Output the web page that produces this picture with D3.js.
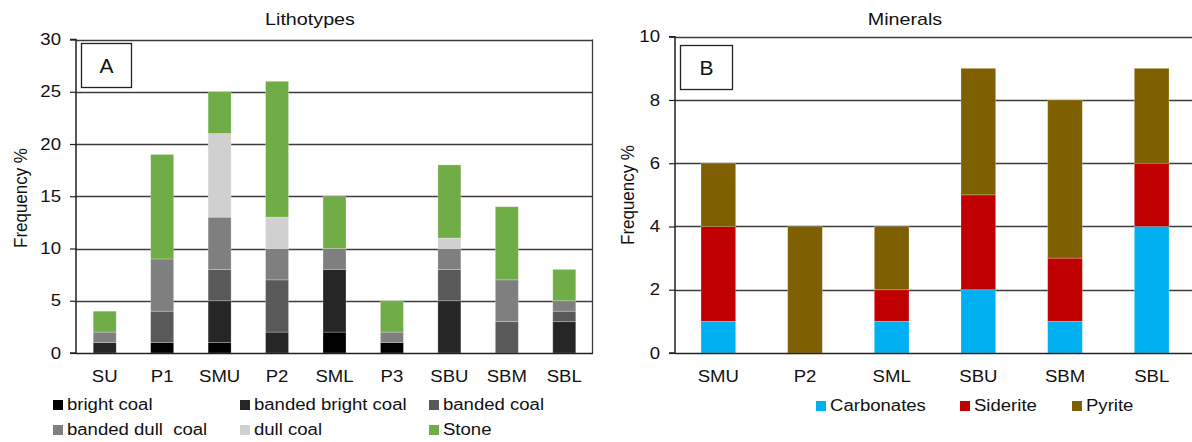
<!DOCTYPE html>
<html>
<head>
<meta charset="utf-8">
<script src="https://cdn.jsdelivr.net/npm/d3@7/dist/d3.min.js"></script>
<style>
  html, body { margin: 0; padding: 0; background: #fff; }
  svg { display: block; font-family: "Liberation Sans", Arial, sans-serif; }
</style>
</head>
<body>
<svg id="chart" width="1192" height="442"></svg>
<script>
// Panel A: lithotype frequencies per seam section
const lithoCategories = ["SU", "P1", "SMU", "P2", "SML", "P3", "SBU", "SBM", "SBL"];
const lithoSeries = ["bright coal", "banded bright coal", "banded coal", "banded dull  coal", "dull coal", "Stone"];
const brightCoal       = [0, 1, 1, 0, 2, 1, 0, 0, 0];
const bandedBrightCoal = [1, 0, 4, 2, 6, 0, 5, 0, 3];
const bandedCoal       = [0, 3, 3, 5, 0, 0, 3, 3, 1];
const bandedDullCoal   = [1, 5, 5, 3, 2, 1, 2, 4, 1];
const dullCoal         = [0, 0, 8, 3, 0, 0, 1, 0, 0];
const stone            = [2, 10, 4, 13, 5, 3, 7, 7, 3];
const lithoTicks = [0, 5, 10, 15, 20, 25, 30];
const lithoColors = ["#000000", "#262626", "#595959", "#7f7f7f", "#d0d0d0", "#70ad47"];

// Panel B: mineral frequencies per seam section
const mineralCategories = ["SMU", "P2", "SML", "SBU", "SBM", "SBL"];
const mineralSeries = ["Carbonates", "Siderite", "Pyrite"];
const carbonates = [1, 0, 1, 2, 1, 4];
const siderite   = [3, 0, 1, 3, 2, 2];
const pyrite     = [2, 4, 2, 4, 5, 3];
const mineralTicks = [0, 2, 4, 6, 8, 10];
const mineralColors = ["#00b0f0", "#c00000", "#7f6000"];

const FONT = "'Liberation Sans', Arial, sans-serif";
const STRETCH = 1.16;   // text is drawn slightly wide

const svg = d3.select("#chart");

// widen text horizontally while keeping its anchor point fixed
function widen(sel) {
  sel.each(function () {
    const t = d3.select(this);
    const x = +(t.attr("x") || 0);
    t.attr("transform", `translate(${x},0) scale(${STRETCH},1) translate(${-x},0)`);
  });
}

function drawPanel(cfg) {
  const g = svg.append("g");
  const x = d3.scaleBand().domain(cfg.categories).range([cfg.left, cfg.right]).paddingInner(0.6).paddingOuter(0.3);
  const y = d3.scaleLinear().domain([0, cfg.max]).range([cfg.bottom, cfg.top]);

  // gridlines (the top one is also the frame's upper edge)
  g.append("g").selectAll("line").data(cfg.ticks.slice(1)).join("line")
    .attr("x1", cfg.left).attr("x2", cfg.right)
    .attr("y1", d => Math.round(y(d)) + 0.5).attr("y2", d => Math.round(y(d)) + 0.5)
    .attr("stroke", "#3c3c3c").attr("stroke-width", 1.3);
  // right frame edge
  g.append("line")
    .attr("x1", cfg.right - 0.5).attr("x2", cfg.right - 0.5)
    .attr("y1", y(cfg.max)).attr("y2", cfg.bottom)
    .attr("stroke", "#3c3c3c").attr("stroke-width", 1.3);

  // stacked bars
  const rows = cfg.categories.map((c, i) => {
    const r = { cat: c };
    cfg.series.forEach((s, k) => { r[s] = cfg.values[k][i]; });
    return r;
  });
  const stacked = d3.stack().keys(cfg.series)(rows);
  g.append("g").selectAll("g").data(stacked).join("g")
    .attr("fill", (d, k) => cfg.colors[k])
    .selectAll("rect").data(d => d.filter(p => p[1] > p[0])).join("rect")
    .attr("x", d => x(d.data.cat))
    .attr("width", x.bandwidth())
    .attr("y", d => y(d[1]))
    .attr("height", d => y(d[0]) - y(d[1]))
    .attr("stroke", "rgba(255,255,255,0.3)")
    .attr("stroke-width", 0.8);

  // y axis
  const yAxis = d3.axisLeft(y).tickValues(cfg.ticks).tickSize(6).tickPadding(9).tickFormat(d3.format("d"));
  const ya = g.append("g").attr("transform", `translate(${cfg.left},0)`).call(yAxis);
  ya.select(".domain").attr("stroke", "#222").attr("stroke-width", 1.5).attr("d", `M-6,${cfg.bottom}H0V${cfg.top}H-6`);
  ya.selectAll(".tick line").attr("stroke", "#222").attr("stroke-width", 1.2);
  ya.selectAll(".tick text").attr("font-size", 16).attr("fill", "#111").attr("font-family", FONT).call(widen);

  // x axis
  const xAxis = d3.axisBottom(x).tickSize(0).tickPadding(18);
  const xa = g.append("g").attr("transform", `translate(0,${cfg.bottom})`).call(xAxis);
  xa.select(".domain").attr("stroke", "#222").attr("stroke-width", 1.5).attr("d", `M${cfg.left},0.5H${cfg.right}`);
  xa.selectAll(".tick text").attr("font-size", 16).attr("fill", "#111").attr("font-family", FONT).call(widen);

  // title
  g.append("text").attr("x", cfg.titleX).attr("y", 25).attr("text-anchor", "middle")
    .attr("font-size", 17).attr("fill", "#111").text(cfg.title).call(widen);

  // y title
  g.append("text").attr("transform", `translate(${cfg.yTitleX},${cfg.yTitleY}) rotate(-90) scale(1.06,${STRETCH})`)
    .attr("text-anchor", "middle").attr("font-size", 16).attr("fill", "#111").text("Frequency %");

  // panel letter box
  g.append("rect").attr("x", cfg.box[0] + 0.5).attr("y", cfg.box[1] + 0.5)
    .attr("width", cfg.box[2]).attr("height", cfg.box[3])
    .attr("fill", "#fff").attr("stroke", "#222").attr("stroke-width", 1.3);
  g.append("text").attr("x", cfg.box[0] + cfg.box[2] / 2 + 0.5).attr("y", cfg.box[1] + cfg.box[3] / 2 + 7.5)
    .attr("text-anchor", "middle").attr("font-size", 21).attr("fill", "#111").text(cfg.letter);

  // legend
  const lg = g.append("g").selectAll("g").data(cfg.series).join("g")
    .attr("transform", (d, k) => `translate(${cfg.legendPos[k][0]},${cfg.legendPos[k][1]})`);
  lg.append("rect").attr("x", 0).attr("y", -10).attr("width", 10).attr("height", 10)
    .attr("fill", (d, k) => cfg.colors[k]);
  lg.append("text").attr("x", 14).attr("y", 0).attr("font-size", 16).attr("fill", "#111")
    .style("white-space", "pre").attr("xml:space", "preserve").text(d => d).call(widen);
}

drawPanel({
  categories: lithoCategories, series: lithoSeries,
  values: [brightCoal, bandedBrightCoal, bandedCoal, bandedDullCoal, dullCoal, stone],
  colors: lithoColors, ticks: lithoTicks, max: 30,
  left: 76, right: 593, top: 39.5, bottom: 353,
  title: "Lithotypes", titleX: 310, yTitleX: 27, yTitleY: 198,
  box: [81, 43, 50, 44], letter: "A",
  legendPos: [[53, 410], [240, 410], [429, 410], [53, 435], [240, 435], [429, 435]]
});

drawPanel({
  categories: mineralCategories, series: mineralSeries,
  values: [carbonates, siderite, pyrite],
  colors: mineralColors, ticks: mineralTicks, max: 10,
  left: 675, right: 1195, top: 36.7, bottom: 353,
  title: "Minerals", titleX: 905, yTitleX: 634, yTitleY: 195,
  box: [680, 45, 52, 44], letter: "B",
  legendPos: [[816, 411], [960, 411], [1072, 411]]
});
</script>
</body>
</html>
